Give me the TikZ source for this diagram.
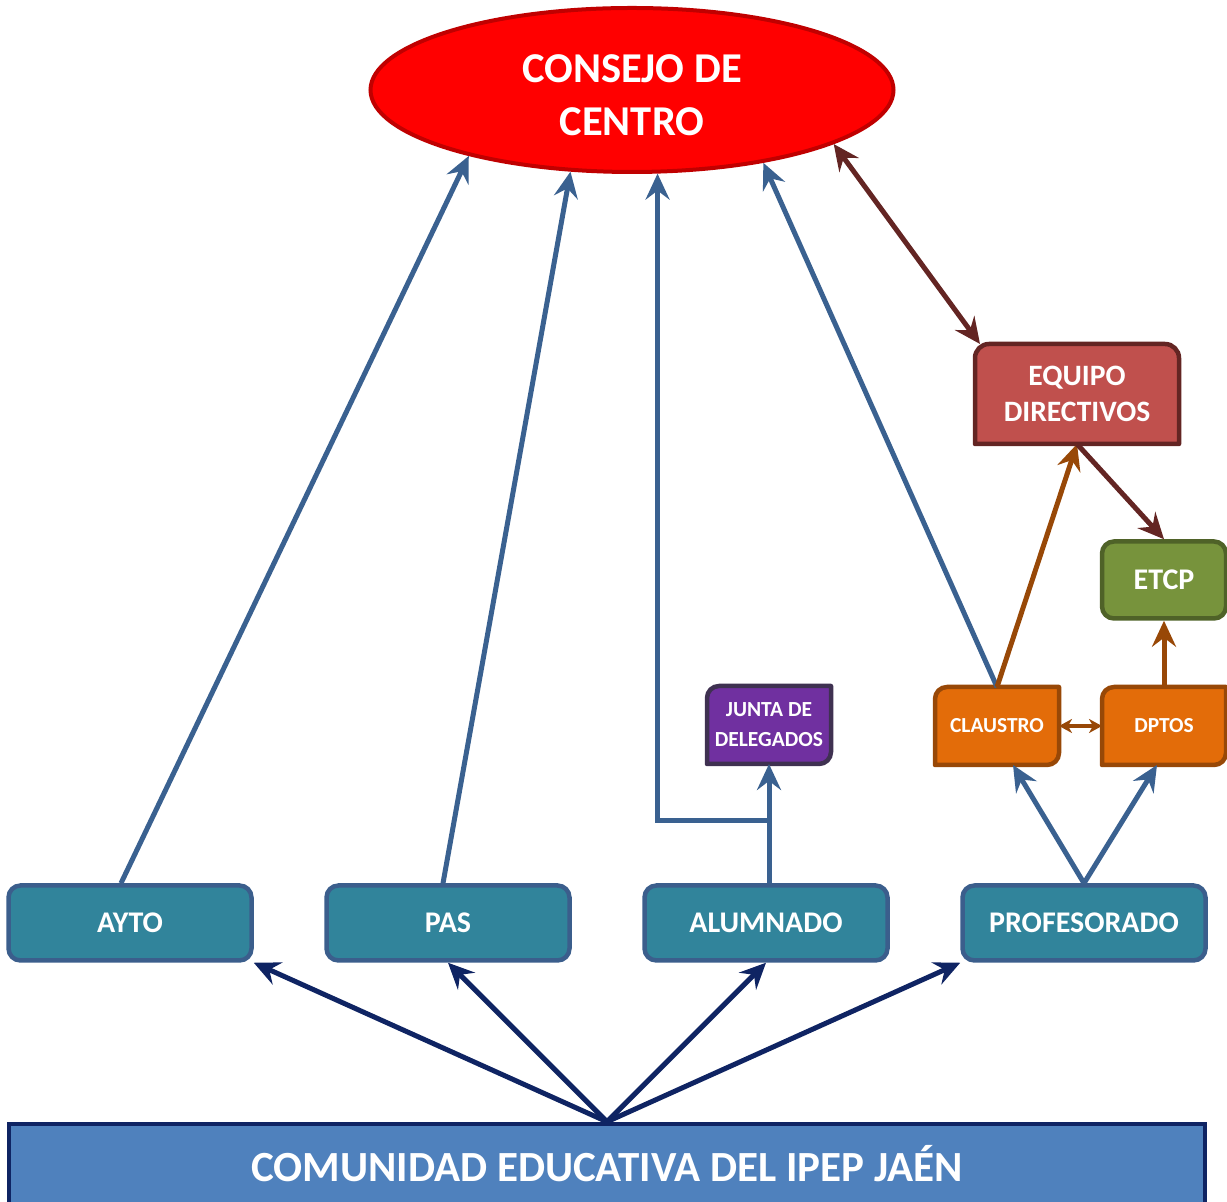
\documentclass[tikz,border=0pt]{standalone}
\usepackage{fontspec}
\setmainfont{Carlito}
\usetikzlibrary{shapes.geometric, arrows.meta, backgrounds}

\definecolor{tealfill}{HTML}{31849B}
\definecolor{tealline}{HTML}{3B5E8C}
\definecolor{bluearrow}{HTML}{3A6190}
\definecolor{navy}{HTML}{0F2463}
\definecolor{basefill}{HTML}{4F81BD}
\definecolor{juntafill}{HTML}{7030A0}
\definecolor{juntaline}{HTML}{3F3151}
\definecolor{orangefill}{HTML}{E36C09}
\definecolor{orangeline}{HTML}{984807}
\definecolor{etcpfill}{HTML}{77933C}
\definecolor{etcpline}{HTML}{4F6228}
\definecolor{equipofill}{HTML}{C0504D}
\definecolor{darkred}{HTML}{632523}
\definecolor{consejoline}{HTML}{C00000}

\tikzstyle{consejo} = [ellipse, minimum width=523pt, minimum height=164pt, draw=consejoline, line width=4pt, fill=red, text=white, align=center, text height=92pt, text depth=0pt, font=\fontsize{42.5}{53}\selectfont\bfseries]
\tikzstyle{member} = [rectangle, rounded corners=12pt, minimum width=243pt, minimum height=75pt, draw=tealline, line width=4.5pt, fill=tealfill, text=white, font=\fontsize{30}{36}\selectfont\bfseries]
\tikzstyle{community} = [rectangle, minimum width=1196pt, minimum height=80pt, draw=navy, line width=4.5pt, fill=basefill, text=white, font=\fontsize{43}{50}\selectfont\bfseries]
\tikzstyle{organ} = [rectangle, minimum width=124pt, minimum height=78pt, outer sep=0pt, text=white, align=center, font=\fontsize{21.4}{30}\selectfont\bfseries]
\tikzstyle{etcp} = [rectangle, rounded corners=12pt, minimum width=124pt, minimum height=77pt, draw=etcpline, line width=4.5pt, fill=etcpfill, text=white, font=\fontsize{30}{36}\selectfont\bfseries]
\tikzstyle{arrow} = [line width=5pt, -{Stealth[length=26pt, width=24pt, inset=9pt]}]
\tikzstyle{darrow} = [line width=5pt, {Stealth[length=26pt, width=24pt, inset=9pt]}-{Stealth[length=26pt, width=24pt, inset=9pt]}]
\tikzstyle{sarrow} = [line width=3.5pt, {Stealth[length=13pt, width=14pt, inset=4pt]}-{Stealth[length=13pt, width=14pt, inset=4pt]}]

% box with rounded top left and bottom right corners
\newcommand{\diagshape}[2]{%
  \draw[line width=4.5pt, line join=round, #2] ([yshift=-12pt]#1.north west)
    arc[start angle=180, end angle=90, radius=12pt] -- (#1.north east)
    -- ([yshift=12pt]#1.south east) arc[start angle=0, end angle=-90, radius=12pt]
    -- (#1.south west) -- cycle;}
% box with rounded top corners
\newcommand{\topshape}[2]{%
  \draw[line width=4.5pt, line join=round, #2] (#1.south west)
    -- ([yshift=-14pt]#1.north west) arc[start angle=180, end angle=90, radius=14pt]
    -- ([xshift=-14pt]#1.north east) arc[start angle=90, end angle=0, radius=14pt]
    -- (#1.south east) -- cycle;}

\begin{document}
\begin{tikzpicture}[x=1pt, y=1pt, node distance=318pt]
\useasboundingbox (0,0) rectangle (1227,1202);

%top
\node (CC) [consejo] at (632,1112) {CONSEJO DE\\CENTRO};
%members row
\node (AYTO) [member] at (130,279) {AYTO};
\node (PAS) [member, right of=AYTO] {PAS};
\node (ALUM) [member, right of=PAS] {ALUMNADO};
\node (PROF) [member, right of=ALUM] {PROFESORADO};
\node (COM) [community] at (607,38) {COMUNIDAD EDUCATIVA DEL IPEP JAÉN};
%organs
\node (JD) [organ, font=\fontsize{21.5}{30}\selectfont\bfseries] at (769,477) {JUNTA DE\\DELEGADOS};
\node (CL) [organ] at (997,476) {CLAUSTRO};
\node (DP) [organ, right of=CL, xshift=-151pt] {DPTOS};
\node (ETCP) [etcp] at (1164,622) {ETCP};
\node (ED) [organ, minimum width=204pt, minimum height=100pt, font=\fontsize{29.6}{36}\selectfont\bfseries] at (1077,808) {EQUIPO\\DIRECTIVOS};

\begin{scope}[on background layer]
\diagshape{JD}{draw=juntaline, fill=juntafill}
\diagshape{CL}{draw=orangeline, fill=orangefill}
\diagshape{DP}{draw=orangeline, fill=orangefill}
\topshape{ED}{draw=darkred, fill=equipofill}
\end{scope}

%arrows
\coordinate (split) at ([yshift=63pt]ALUM.north -| JD.south);
\draw [arrow, bluearrow] ([xshift=-9pt]AYTO.north) -- (CC.202);
\draw [arrow, bluearrow] ([xshift=-5pt]PAS.north) -- (CC.233);
\draw [arrow, bluearrow] (ALUM.north -| JD.south) -- (split) -| (CC.287);
\draw [arrow, bluearrow] (split) -- (JD.south);
\draw [arrow, bluearrow] (CL.north) -- (CC.331);
\draw [arrow, orangeline] (CL.north) -- (ED.south);
\draw [darrow, darkred] (CC.345) -- ([xshift=5pt]ED.north west);
\draw [arrow, darkred] (ED.south) -- (ETCP.north);
\draw [arrow, orangeline] (DP.north) -- (ETCP.south);
\draw [sarrow, orangeline] (CL.east) -- (DP.west);
\draw [arrow, bluearrow] (PROF.north) -- ([xshift=16pt]CL.south);
\draw [arrow, bluearrow] (PROF.north) -- ([xshift=-7pt]DP.south);
\foreach \n/\a in {AYTO/south east, PAS/south, ALUM/south, PROF/south west}
  \draw [arrow, navy] (COM.north) -- (\n.\a);

\end{tikzpicture}
\end{document}
